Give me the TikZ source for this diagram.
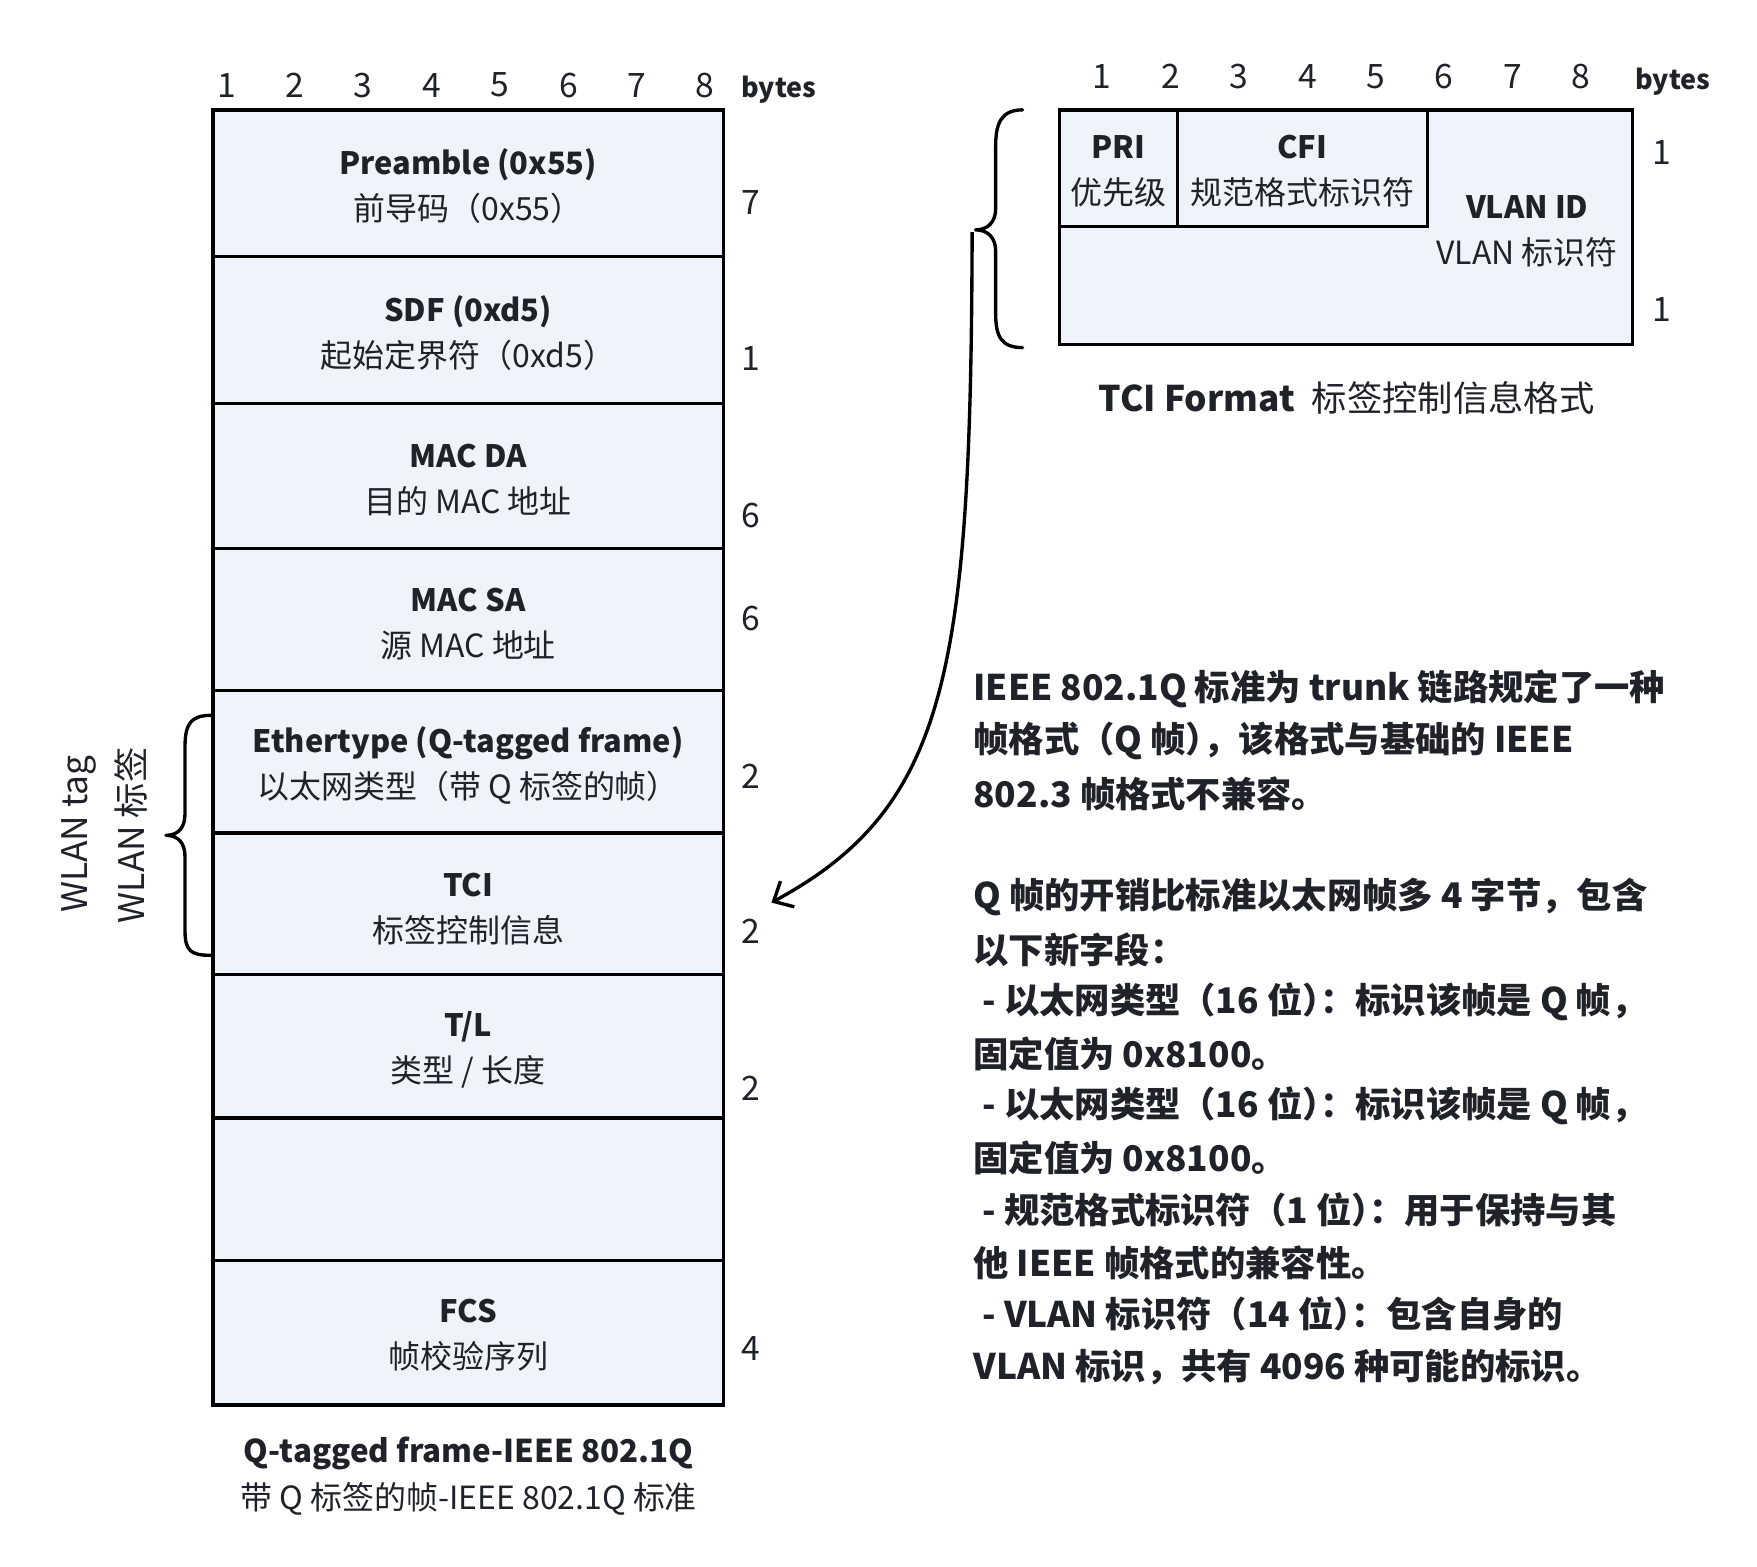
\documentclass[tikz,border=0pt]{standalone}
\usepackage{fontspec}
\setmainfont{Noto Sans CJK SC}
\usetikzlibrary{arrows.meta}
\definecolor{txt}{HTML}{1F2329}
\definecolor{boxfill}{HTML}{EEF3FC}
\newcommand{\hwp}[1]{{\addfontfeature{RawFeature=+halt}#1}}
\newcommand{\topline}[1]{{\fontsize{27.5}{27.5}\selectfont\bfseries #1}}
\newcommand{\subline}[1]{{\fontsize{28.5}{28.5}\selectfont #1}}
\tikzset{
  rowbox/.style={draw=black, line width=3pt, fill=boxfill, minimum width=455pt, inner sep=0pt},
  tcibox/.style={draw=black, line width=3pt, fill=boxfill, inner sep=0pt},
  celltext/.style={text=txt, inner sep=0pt, align=center, font=\fontsize{28}{41}\selectfont},
  numlbl/.style={text=txt, inner sep=0pt, font=\fontsize{30}{30}\selectfont},
  byteslbl/.style={text=txt, inner sep=0pt, font=\fontsize{24}{24}\selectfont\bfseries},
  desc/.style={text=txt, inner sep=0pt, anchor=west, font=\fontsize{31.5}{31.5}\selectfont\bfseries},
  capt/.style={text=txt, inner sep=0pt, align=center},
  bracepath/.style={draw=black, line width=3pt, line cap=round, line join=round},
}
\begin{document}
\begin{tikzpicture}[x=1pt,y=-1pt]
\useasboundingbox (0,0) rectangle (1567,1397.5);
% ---------- left frame ----------
\node[rowbox, minimum height=131pt] (r1) at (417.5,163.5) {};
\node[rowbox, minimum height=131pt] (r2) at (417.5,294.5) {};
\node[rowbox, minimum height=129pt] (r3) at (417.5,424.5) {};
\node[rowbox, minimum height=127pt] (r4) at (417.5,552.5) {};
\node[rowbox, minimum height=127pt] (r5) at (417.5,679.5) {};
\node[rowbox, minimum height=126pt] (r6) at (417.5,806) {};
\node[rowbox, minimum height=128pt] (r7) at (417.5,933) {};
\node[rowbox, minimum height=127pt] (r8) at (417.5,1060.5) {};
\node[rowbox, minimum height=129pt] (r9) at (417.5,1188.5) {};
\node[celltext] (r1t) at ([yshift=-2.5pt]r1.center) {\topline{Preamble (0x55)}\\\subline{前导码（0x55）}};
\node[celltext] (r2t) at ([yshift=-2.5pt]r2.center) {\topline{SDF (0xd5)}\\\subline{起始定界符（0xd5）}};
\node[celltext] (r3t) at ([yshift=-4pt]r3.center) {\topline{MAC DA}\\\subline{目的 MAC 地址}};
\node[celltext] (r4t) at ([yshift=-4pt]r4.center) {\topline{MAC SA}\\\subline{源 MAC 地址}};
\node[celltext] (r5t) at ([yshift=-3pt]r5.center) {\topline{Ethertype (Q-tagged frame)}\\\subline{以太网类型（带 Q 标签的帧）}};
\node[celltext] (r6t) at ([yshift=-4.5pt]r6.center) {\topline{TCI}\\\subline{标签控制信息}};
\node[celltext] (r7t) at ([yshift=-3.5pt]r7.center) {\topline{T/L}\\\subline{类型 / 长度}};
\node[celltext] (r9t) at ([yshift=-2.5pt]r9.center) {\topline{FCS}\\\subline{帧校验序列}};
% top byte numbers
\node[numlbl] (la1) at (202,76) {1};
\node[numlbl] (la2) at (263,76) {2};
\node[numlbl] (la3) at (324,76) {3};
\node[numlbl] (la4) at (385,76) {4};
\node[numlbl] (la5) at (446,76) {5};
\node[numlbl] (la6) at (507,76) {6};
\node[numlbl] (la7) at (568,76) {7};
\node[numlbl] (la8) at (629,76) {8};
\node[byteslbl] (lbytes) at (694.5,80) {bytes};
% right sizes
\node[numlbl] (s1) at (670,181) {7};
\node[numlbl] (s2) at (670,320) {1};
\node[numlbl] (s3) at (670,460) {6};
\node[numlbl] (s4) at (670,552) {6};
\node[numlbl] (s5) at (670,692) {2};
\node[numlbl] (s6) at (670,831) {2};
\node[numlbl] (s7) at (670,971) {2};
\node[numlbl] (s8) at (670,1203) {4};
% WLAN brace
\draw[bracepath] (188,638) .. controls (170,638) and (165,646) .. (165,666) -- (165,726)
  .. controls (165,738) and (159,745) .. (148,745)
  .. controls (159,745) and (165,752) .. (165,764) -- (165,830)
  .. controls (165,848) and (170,852) .. (188,852);
\node[capt, rotate=90, font=\fontsize{31.5}{31.5}\selectfont] (wlan1) at (70,744) {WLAN tag};
\node[capt, rotate=90, font=\fontsize{31.5}{31.5}\selectfont] (wlan2) at (117,745) {WLAN 标签};
% bottom caption
\node[capt, font=\fontsize{28}{28}\selectfont\bfseries] (cap1) at (418,1296) {Q-tagged frame-IEEE 802.1Q};
\node[capt, font=\fontsize{28.5}{28.5}\selectfont] (cap2) at (418,1337) {带 Q 标签的帧-IEEE 802.1Q 标准};
% ---------- TCI format ----------
\node[tcibox, minimum width=511pt, minimum height=209pt] (tci) at (1200.5,202.5) {};
\node[tcibox, minimum width=105pt, minimum height=104pt] (pri) at (997.5,150) {};
\node[tcibox, minimum width=223pt, minimum height=104pt] (cfi) at (1161.5,150) {};
\node[celltext] (prit) at ([yshift=-2.5pt]pri.center) {\topline{PRI}\\\subline{优先级}};
\node[celltext] (cfit) at ([yshift=-2.5pt]cfi.center) {\topline{CFI}\\\subline{规范格式标识符}};
\node[celltext] (vlan) at (1362,206) {\topline{VLAN ID}\\\subline{VLAN 标识符}};
\node[numlbl] (ra1) at (983,68) {1};
\node[numlbl] (ra2) at (1044,68) {2};
\node[numlbl] (ra3) at (1105,68) {3};
\node[numlbl] (ra4) at (1166,68) {4};
\node[numlbl] (ra5) at (1227,68) {5};
\node[numlbl] (ra6) at (1288,68) {6};
\node[numlbl] (ra7) at (1349,68) {7};
\node[numlbl] (ra8) at (1410,68) {8};
\node[byteslbl] (rbytes) at (1492,73) {bytes};
\node[numlbl] (t1) at (1482,136) {1};
\node[numlbl] (t2) at (1482,276) {1};
\node[capt, font=\fontsize{31.5}{31.5}\selectfont] (tcicap) at (1201,355) {\textbf{TCI Format}\hspace{15pt}标签控制信息格式};
% TCI brace
\draw[bracepath] (912,98) .. controls (893,98) and (888,110) .. (888,130) -- (888,186)
  .. controls (888,198) and (881,205) .. (870,205)
  .. controls (881,205) and (888,212) .. (888,224) -- (888,280)
  .. controls (888,300) and (893,310) .. (912,310);
\coordinate (bracetip) at (867,207);
\coordinate (arrowend) at (688,805);
\draw[line width=3pt, -{Straight Barb[length=14pt,width=26pt,line width=3pt]}] (bracetip) .. controls (866,600) and (845,720) .. (arrowend);
% ---------- description ----------
\node[desc] (d1) at (868,614) {IEEE 802.1Q 标准为 trunk 链路规定了一种};
\node[desc] (d2) at (868,661) {帧格式（Q 帧\hwp{）}，该格式与基础的 IEEE};
\node[desc] (d3) at (868,708) {802.3 帧格式不兼容。};
\node[desc] (d4) at (868,800) {Q 帧的开销比标准以太网帧多 4 字节，包含};
\node[desc] (d5) at (868,847) {以下新字段：};
\node[desc] (d6) at (876,893) {- 以太网类型（16 位\hwp{）}：标识该帧是 Q 帧，};
\node[desc] (d7) at (868,940) {固定值为 0x8100。};
\node[desc] (d8) at (876,986) {- 以太网类型（16 位\hwp{）}：标识该帧是 Q 帧，};
\node[desc] (d9) at (868,1033) {固定值为 0x8100。};
\node[desc] (d10) at (876,1079) {- 规范格式标识符（1 位\hwp{）}：用于保持与其};
\node[desc] (d11) at (868,1126) {他 IEEE 帧格式的兼容性。};
\node[desc] (d12) at (876,1172) {- VLAN 标识符（14 位\hwp{）}：包含自身的};
\node[desc] (d13) at (868,1219) {VLAN 标识，共有 4096 种可能的标识。};
\end{tikzpicture}
\end{document}
